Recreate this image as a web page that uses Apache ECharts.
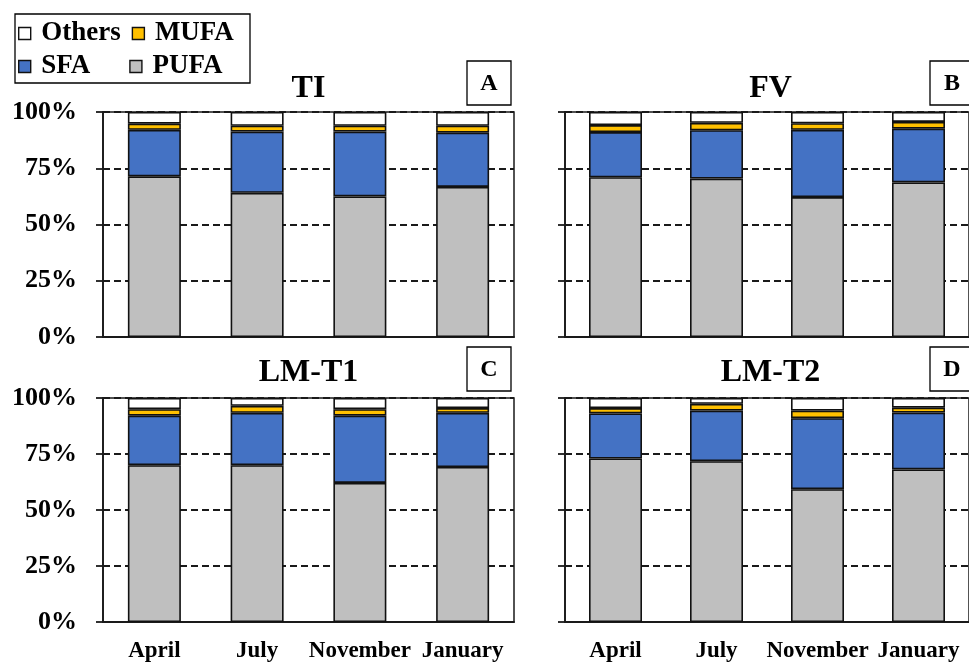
<!DOCTYPE html>
<html>
<head>
<meta charset="utf-8">
<script src="https://cdn.jsdelivr.net/npm/echarts@6/dist/echarts.min.js"></script>
<style>
  html, body { margin: 0; padding: 0; background: #fff; }
  #chart { width: 969px; height: 663px; }
</style>
</head>
<body>
<div id="chart"></div>
<script>
// Sampling months (x categories) and the four sites, one panel each
const months = ['April', 'July', 'November', 'January'];
const sites = ['TI', 'FV', 'LM-T1', 'LM-T2'];
const panelLetters = ['A', 'B', 'C', 'D'];
const yTicks = [0, 25, 50, 75, 100];

// Fatty-acid class shares (%) per site (rows: TI, FV, LM-T1, LM-T2; columns: months)
const PUFA = [
  [71.4, 64.1, 62.5, 66.7],
  [71.0, 70.4, 62.2, 68.7],
  [70.0, 70.0, 62.1, 69.2],
  [73.0, 71.8, 59.3, 68.1]
];
const SFA = [
  [20.7, 27.2, 28.8, 24.1],
  [20.1, 21.5, 29.9, 23.9],
  [22.1, 23.4, 30.0, 24.2],
  [20.1, 22.6, 31.7, 25.4]
];
const MUFA = [
  [2.7, 2.6, 2.6, 3.1],
  [3.1, 3.3, 2.9, 3.0],
  [2.9, 3.1, 2.9, 2.1],
  [2.4, 3.0, 3.4, 2.2]
];
const Others = [
  [5.2, 6.1, 6.1, 6.1],
  [5.8, 4.8, 5.0, 4.4],
  [5.0, 3.5, 5.0, 4.5],
  [4.5, 2.6, 5.6, 4.3]
];

const SERIF = '"Liberation Serif", "Times New Roman", serif';
const EDGE = '#111111';
const LINE = '#1a1a1a';

// Panel placement (pixels): left/top of each plot area
const panels = [
  { left: 103, top: 112, height: 225 },
  { left: 565, top: 112, height: 225 },
  { left: 103, top: 398, height: 227 },
  { left: 565, top: 398, height: 227 }
];
const PLOT_W = 411;

const stackDefs = [
  { name: 'PUFA', data: PUFA, color: '#bfbfbf' },
  { name: 'SFA', data: SFA, color: '#4472c4' },
  { name: 'MUFA', data: MUFA, color: '#ffc000' },
  { name: 'Others', data: Others, color: '#ffffff' }
];

const grids = [], xAxes = [], yAxes = [], series = [], graphics = [];

panels.forEach((p, i) => {
  const isBottom = i >= 2;
  const isLeft = i % 2 === 0;
  grids.push({
    left: p.left, top: p.top, width: PLOT_W, height: p.height,
    show: true, backgroundColor: 'transparent',
    borderColor: LINE, borderWidth: 1.5
  });
  xAxes.push({
    type: 'category', gridIndex: i, data: months,
    axisLine: { show: true, lineStyle: { color: LINE, width: 1.8 } },
    axisTick: { show: false },
    axisLabel: {
      show: isBottom, interval: 0, margin: 18, color: '#000',
      fontFamily: SERIF, fontWeight: 'bold', fontSize: 23
    },
    splitLine: { show: false }
  });
  yAxes.push({
    type: 'value', gridIndex: i, min: 0, max: 100, interval: 25,
    axisLine: { show: true, lineStyle: { color: LINE, width: 1.8 } },
    axisTick: { show: true, inside: false, length: 7, lineStyle: { color: LINE, width: 1.8 } },
    axisLabel: {
      show: isLeft, margin: 26, color: '#000',
      fontFamily: SERIF, fontWeight: 'bold', fontSize: 26,
      formatter: '{value}%'
    },
    splitLine: { show: true, lineStyle: { color: LINE, width: 1.8, type: [7, 4] } }
  });
  stackDefs.forEach(s => {
    series.push({
      type: 'bar', name: s.name, stack: 'site' + i,
      xAxisIndex: i, yAxisIndex: i,
      data: s.data[i], barWidth: 53,
      itemStyle: { color: s.color, borderColor: EDGE, borderWidth: 1.6 },
      emphasis: { disabled: true }
    });
  });

  // Site name above each panel
  const cx = p.left + PLOT_W / 2;
  graphics.push({
    type: 'text', x: cx, y: isBottom ? 373 : 89, silent: true,
    style: {
      text: sites[i], textAlign: 'center', textVerticalAlign: 'middle',
      font: 'bold 32px ' + SERIF, fill: '#000'
    }
  });
  // Panel letter in a framed box
  const bx = isLeft ? 467 : 930;
  const by = isBottom ? 347 : 61;
  graphics.push({
    type: 'rect', shape: { x: bx, y: by, width: 44, height: 44 }, silent: true,
    style: { fill: '#fff', stroke: '#000', lineWidth: 1.3 }
  });
  graphics.push({
    type: 'text', x: bx + 22, y: by + 23, silent: true,
    style: {
      text: panelLetters[i], textAlign: 'center', textVerticalAlign: 'middle',
      font: 'bold 24px ' + SERIF, fill: '#000'
    }
  });
});

// Frame around the two-row legend
graphics.push({
  type: 'rect', shape: { x: 15, y: 14, width: 235, height: 69 }, silent: true,
  z: -1,
  style: { fill: '#fff', stroke: '#000', lineWidth: 1.3 }
});

const legendBase = {
  orient: 'horizontal', left: 18, padding: 0,
  icon: 'path://M0,0H10V10H0Z', itemWidth: 23, itemHeight: 12,
  symbolKeepAspect: true, selectedMode: false,
  itemStyle: { borderColor: EDGE, borderWidth: 1.4 },
  textStyle: { fontFamily: SERIF, fontWeight: 'bold', fontSize: 27, color: '#000' }
};

const option = {
  animation: false,
  backgroundColor: '#fff',
  legend: [
    Object.assign({}, legendBase, { top: 20, itemGap: 11, data: ['Others', 'MUFA'] }),
    Object.assign({}, legendBase, { top: 53, itemGap: 39, data: ['SFA', 'PUFA'] })
  ],
  grid: grids,
  xAxis: xAxes,
  yAxis: yAxes,
  series: series,
  graphic: graphics
};

const chart = echarts.init(document.getElementById('chart'), null, { renderer: 'canvas' });
chart.setOption(option);
</script>
</body>
</html>
